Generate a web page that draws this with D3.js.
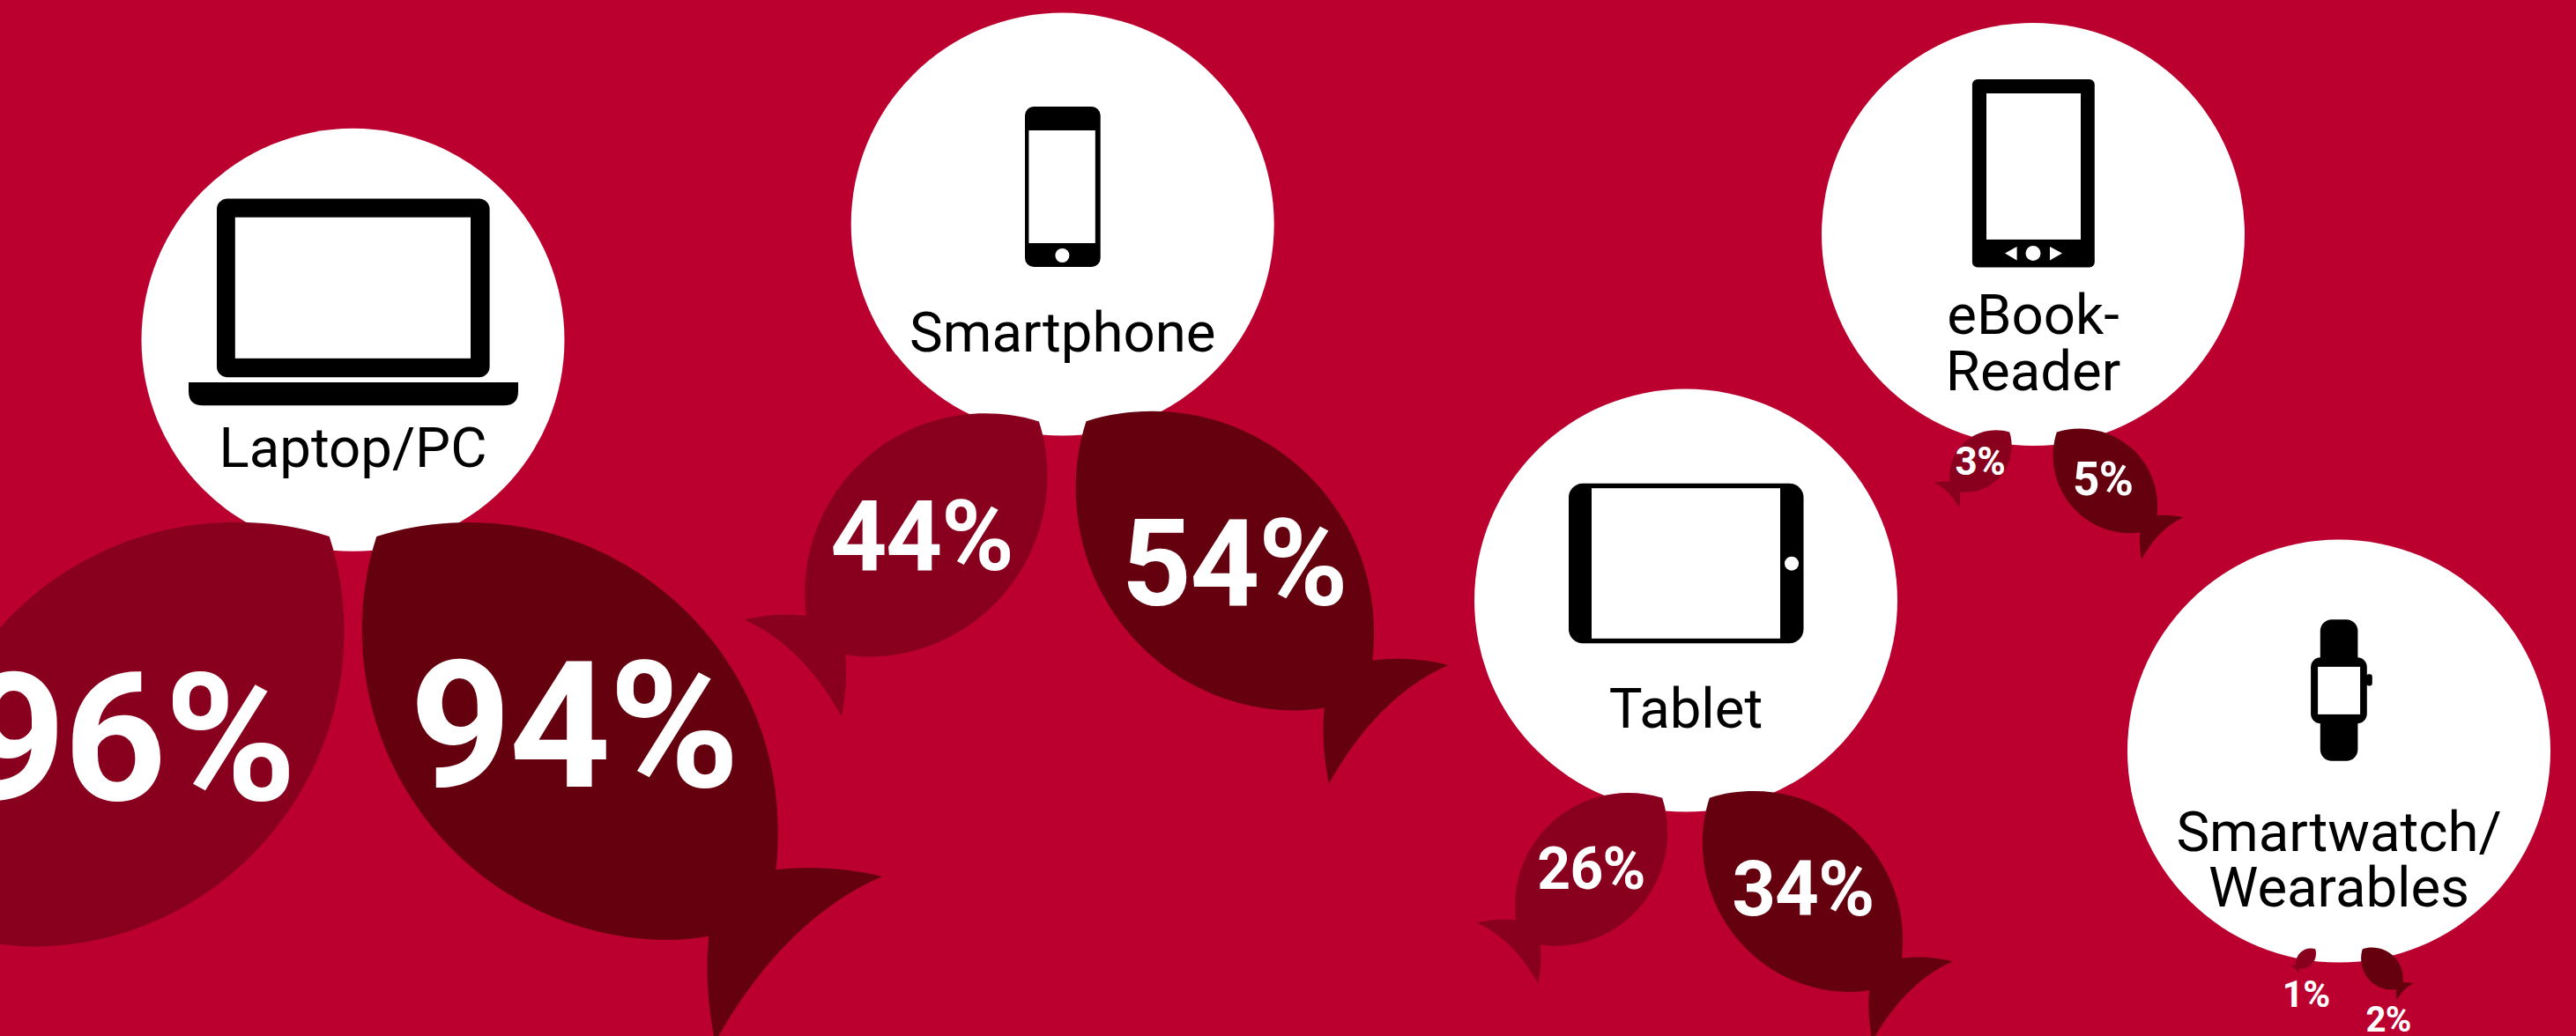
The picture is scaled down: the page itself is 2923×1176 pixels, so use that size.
<!DOCTYPE html>
<html>
<head>
<meta charset="utf-8">
<script src="https://cdnjs.cloudflare.com/ajax/libs/d3/7.8.5/d3.min.js"></script>
<style>
	html, body { margin: 0; padding: 0; background: #bb002f; overflow: hidden; }
	svg { display: block; }
	text { font-family: Roboto, sans-serif; }
	.category { font-size: 63.5px; fill: #000; text-anchor: middle; }
	.value { font-weight: 700; fill: #fff; text-anchor: middle; letter-spacing: -0.012em; }
</style>
</head>
<body>
<div class="chart"></div>
<script>
const WIDTH = 2923
const HEIGHT = 1176
const COLOR_BG = '#bb002f'
const COLOR_LEFT = '#88001d'
const COLOR_RIGHT = '#65000f'
const RADIUS = 240

const categories = ['Laptop/PC', 'Smartphone', 'Tablet', 'eBook-Reader', 'Smartwatch/Wearables']
const categoryLines = [['Laptop/PC'], ['Smartphone'], ['Tablet'], ['eBook-', 'Reader'], ['Smartwatch/', 'Wearables']]
const leftValues = [96, 44, 26, 3, 1]
const rightValues = [94, 54, 34, 5, 2]

// bubble layout
const scaleX = d3.scaleOrdinal().domain(categories).range([400.5, 1205.7, 1913, 2307, 2654])
const scaleY = d3.scaleOrdinal().domain(categories).range([385.8, 254.6, 681.6, 266, 852.6])

// fish are not strictly proportional in the original, so the scales are piecewise
const sizeDomain = [1, 2, 3, 5, 26, 34, 44, 54, 94, 96]
const scaleSize = d3.scaleLinear().domain(sizeDomain)
	.range([28.7, 59.7, 88, 148, 216.5, 284, 344, 423, 590, 600])
const scaleFont = d3.scaleLinear().domain(sizeDomain)
	.range([42, 40, 44, 53, 66, 87, 112, 138, 201, 203])
// label centre and baseline as a share of the fish size, 1 and 2 percent sit under the fish
const scaleLabelX = d3.scaleLinear().domain(sizeDomain)
	.range([0.39, 0.52, 0.408, 0.382, 0.401, 0.401, 0.415, 0.425, 0.407, 0.407])
const scaleLabelY = d3.scaleLinear().domain(sizeDomain)
	.range([2.3, 1.59, 0.583, 0.513, 0.503, 0.496, 0.517, 0.521, 0.509, 0.526])
const scaleGapX = d3.scaleLinear().domain([28.7, 600]).range([26, 10])
const scaleGapY = d3.scaleLinear().domain([59.7, 590]).range([-17, -32.7])

const svg = d3.select('.chart').append('svg')
	.attr('width', WIDTH)
	.attr('height', HEIGHT)

svg.append('rect')
	.attr('width', WIDTH)
	.attr('height', HEIGHT)
	.attr('fill', COLOR_BG)

// fish outline in a unit box, nose top left, tail bottom right
function fishPath(s) {
	const p = d3.path()
	const c = (a, b, e, f, g, h) => p.bezierCurveTo(a * s, b * s, e * s, f * s, g * s, h * s)
	p.moveTo(0.028 * s, 0.027 * s)
	c(0.085, 0.008, 0.145, 0, 0.205, 0)
	c(0.534, 0, 0.8, 0.265, 0.8, 0.593)
	c(0.8, 0.62, 0.799, 0.645, 0.796, 0.668)
	c(0.865, 0.66, 0.935, 0.665, 1, 0.681)
	c(0.875, 0.735, 0.765, 0.845, 0.679, 1)
	c(0.665, 0.93, 0.66, 0.86, 0.667, 0.796)
	c(0.642, 0.8, 0.616, 0.803, 0.59, 0.803)
	c(0.265, 0.803, 0, 0.536, 0, 0.206)
	c(0, 0.145, 0.009, 0.085, 0.028, 0.027)
	p.closePath()
	return p.toString()
}

function rect(g, x0, y0, x1, y1, r, fill) {
	g.append('rect')
		.attr('x', x0)
		.attr('y', y0)
		.attr('width', x1 - x0)
		.attr('height', y1 - y0)
		.attr('rx', r)
		.attr('fill', fill)
}

function dot(g, cx, cy, r) {
	g.append('circle')
		.attr('cx', cx)
		.attr('cy', cy)
		.attr('r', r)
		.attr('fill', '#fff')
}

function laptop(g) {
	rect(g, -154.5, -160.4, 155.1, 42.4, 12, '#000')
	rect(g, -133.7, -139.1, 133.5, 21, 0, '#fff')
	g.append('path')
		.attr('d', 'M-186.5,48.2H187.5V58.4Q187.5,74.4 171.5,74.4H-170.5Q-186.5,74.4 -186.5,58.4Z')
}

function phone(g) {
	rect(g, -42.7, -133.6, 43, 48.4, 10, '#000')
	rect(g, -38.3, -106.6, 37.1, 21.4, 0, '#fff')
	dot(g, -0.3, 35.4, 8)
}

function tablet(g) {
	rect(g, -133, -132.8, 133.5, 48.6, 16, '#000')
	rect(g, -107, -127.4, 107, 43.2, 0, '#fff')
	dot(g, 120, -41.9, 8)
}

function ebook(g) {
	rect(g, -69.1, -176, 69.8, 37.5, 6, '#000')
	rect(g, -53, -160, 54, 5.9, 0, '#fff')
	dot(g, 0, 21.5, 8.5)
	g.append('path').attr('fill', '#fff').attr('d', 'M-32,21.5L-18.4,14V29.5Z')
	g.append('path').attr('fill', '#fff').attr('d', 'M33,21.5L19,14V29.5Z')
}

function watch(g) {
	rect(g, -21.2, -149.4, 21.4, 11.2, 13, '#000')
	rect(g, -31.9, -106.4, 31.8, -31.4, 11, '#000')
	rect(g, 31, -87.3, 37.8, -74.1, 3, '#000')
	rect(g, -23.9, -95.7, 24.1, -41.7, 0, '#fff')
}

const icons = [laptop, phone, tablet, ebook, watch]

const bubble = svg.selectAll('.bubble')
	.data(categories)
	.join('g')
	.attr('class', 'bubble')
	.attr('transform', d => `translate(${scaleX(d)}, ${scaleY(d)})`)

bubble.append('circle')
	.attr('r', RADIUS)
	.attr('fill', '#fff')

bubble.each(function(d, i) {
	icons[i](d3.select(this).append('g'))
})

bubble.each(function(d, i) {
	const lines = categoryLines[i]
	d3.select(this).selectAll('.category')
		.data(lines)
		.join('text')
		.attr('class', 'category')
		.attr('y', (l, j) => lines.length > 1 ? 113 + j * 63.5 : 144.5)
		.text(l => l)
})

function drawFish(values, side, color) {
	const group = svg.selectAll(`.fish--${side}`)
		.data(values)
		.join('g')
		.attr('class', `fish--${side}`)
		.attr('transform', (d, i) => {
			const s = scaleSize(d)
			const c = categories[i]
			const x = scaleX(c) + side * scaleGapX(s)
			const y = scaleY(c) + RADIUS + scaleGapY(s)
			return `translate(${x}, ${y}) scale(${side}, 1)`
		})

	group.append('path')
		.attr('d', d => fishPath(scaleSize(d)))
		.attr('fill', color)

	group.append('text')
		.attr('class', 'value')
		.attr('transform', `scale(${side}, 1)`)
		.attr('x', d => side * scaleSize(d) * scaleLabelX(d))
		.attr('y', d => scaleSize(d) * scaleLabelY(d))
		.style('font-size', d => `${scaleFont(d)}px`)
		.text(d => `${d}%`)
}

drawFish(leftValues, -1, COLOR_LEFT)
drawFish(rightValues, 1, COLOR_RIGHT)
</script>
</body>
</html>
